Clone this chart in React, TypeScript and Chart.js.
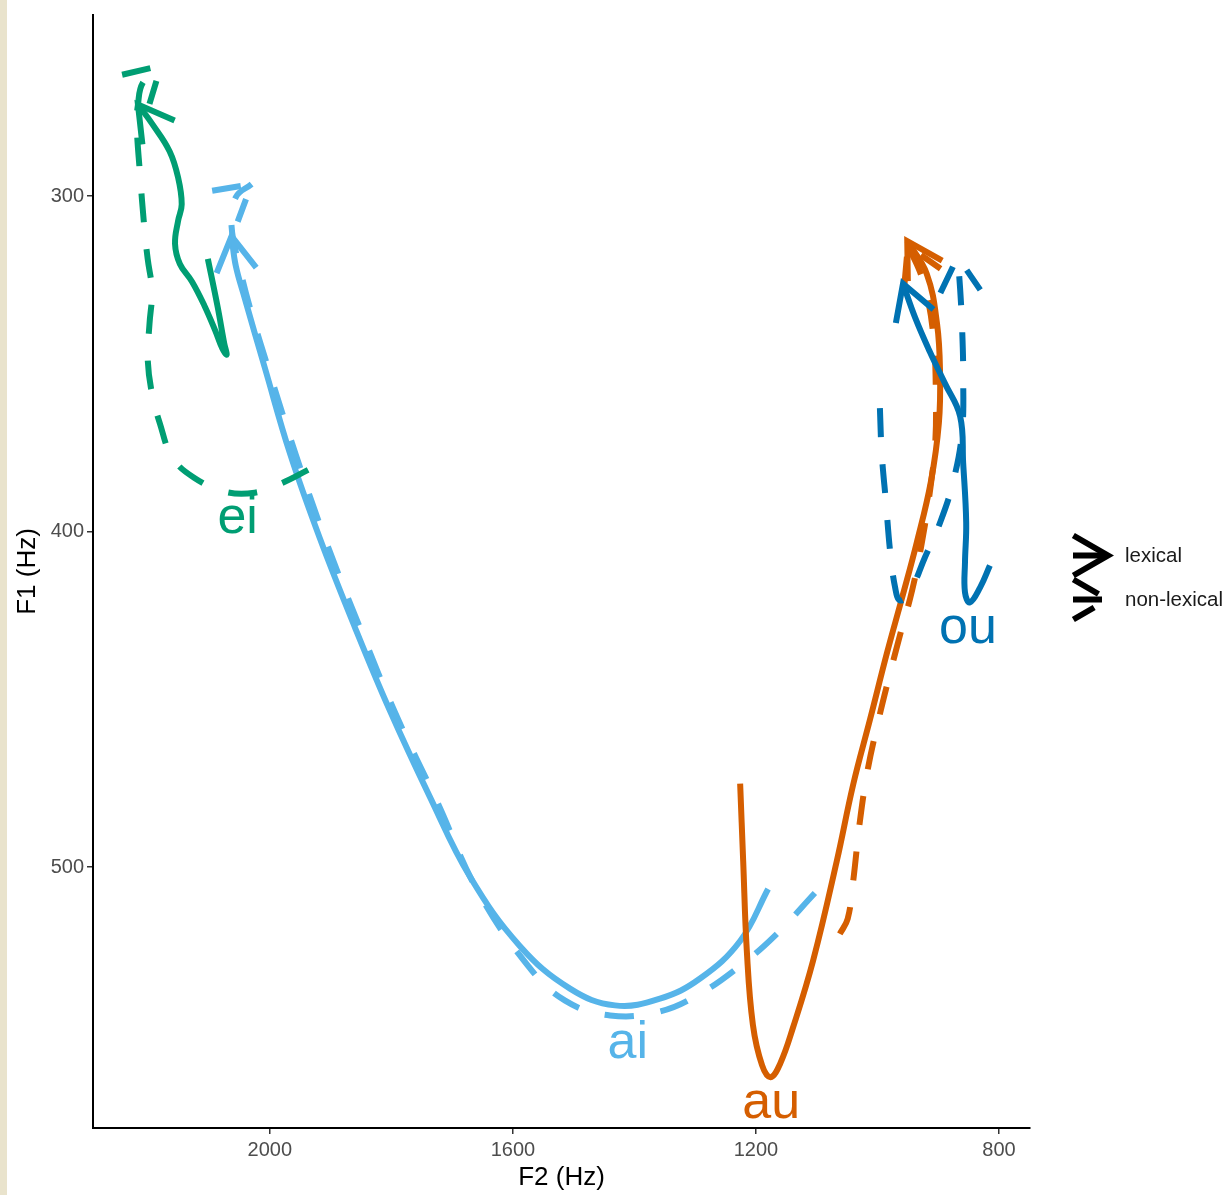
import React, { useEffect, useRef } from 'react';
import { Chart, registerables } from 'chart.js';

Chart.register(...registerables);

// Axis ticks
const xTicks = [800, 1200, 1600, 2000];
const yTicks = [300, 400, 500];

// Vowel series (draw order: ai, au, ei, ou)
const vowelNames = ['ai', 'au', 'ei', 'ou'];
const vowelColors = ['#56B4E9', '#D55E00', '#009E73', '#0072B2'];
const legendLabels = ['lexical', 'non-lexical'];

// Label anchor positions (baseline) per vowel
const labelF2 = [1411, 1175, 2053, 851];
const labelF1 = [557.0, 574.8, 400.3, 433.2];

// ai
const aiLexF2 = [1180, 1226, 1292, 1358, 1432, 1506, 1589, 1671, 1737, 1803, 1860, 1918, 1967, 2008, 2041, 2056, 2063];
const aiLexF1 = [506.5, 522.0, 533.2, 539.2, 541.2, 536.2, 523.4, 502.7, 478.9, 453.1, 428.5, 401.8, 376.6, 351.3, 330.6, 320.8, 311.9];
const aiNonF2 = [1103, 1169, 1226, 1292, 1358, 1440, 1514, 1575, 1658, 1725, 1793, 1850, 1908, 1957, 2000, 2030, 2049, 2063, 2056, 2030];
const aiNonF1 = [507.7, 520.5, 529.4, 537.7, 543.0, 544.2, 539.8, 529.4, 507.1, 480.4, 454.3, 429.4, 402.7, 377.2, 352.8, 335.0, 321.7, 308.9, 300.3, 296.4];

// au
const auLexF2 = [1226, 1221, 1215, 1205, 1190, 1176, 1160, 1139, 1106, 1067, 1040, 1012, 984, 960, 935, 912, 899, 897, 902, 919, 951];
const auLexF1 = [475.1, 498.2, 525.0, 547.0, 559.0, 562.6, 558.5, 547.8, 527.9, 498.2, 475.4, 455.8, 435.9, 420.0, 403.0, 385.0, 367.7, 352.8, 338.0, 323.1, 313.4];
const auNonF2 = [1062, 1049, 1040, 1029, 1016, 999, 983, 963, 943, 927, 914, 905, 904, 907, 917, 930, 950];
const auNonF1 = [519.9, 515.4, 504.2, 486.4, 470.9, 456.7, 444.8, 430.9, 417.5, 403.3, 388.4, 373.6, 358.8, 343.9, 330.6, 322.6, 314.8];

// ei
const eiLexF2 = [2102, 2086, 2075, 2071, 2078, 2090, 2108, 2128, 2148, 2156, 2151, 2145, 2151, 2165, 2193, 2217];
const eiLexF1 = [318.7, 332.9, 343.9, 347.2, 345.5, 340.0, 332.5, 325.5, 320.2, 314.2, 307.4, 302.4, 294.4, 286.6, 278.6, 272.7];
const eiNonF2 = [1937, 1980, 2025, 2074, 2124, 2160, 2181, 2194, 2201, 2198, 2194, 2201, 2206, 2214, 2219, 2217, 2209, 2179];
const eiNonF1 = [381.6, 385.5, 388.4, 388.1, 384.0, 378.0, 367.7, 358.8, 348.4, 338.0, 328.2, 318.7, 310.4, 292.6, 278.6, 272.7, 266.2, 261.1];

// ou
const ouLexF2 = [815, 831, 848, 856, 856, 854, 859, 864, 889, 914, 938, 958];
const ouLexF1 = [410.1, 416.6, 421.1, 418.1, 409.2, 397.3, 379.5, 365.6, 355.8, 346.3, 336.2, 326.1];
const ouNonF2 = [996, 993, 986, 979, 971, 963, 947, 922, 897, 876, 861, 859, 861, 864, 868];
const ouNonF1 = [363.2, 376.6, 391.4, 406.2, 416.6, 420.5, 418.1, 407.7, 397.3, 385.5, 370.6, 352.8, 338.0, 327.6, 318.1];

const lexF2 = [aiLexF2, auLexF2, eiLexF2, ouLexF2];
const lexF1 = [aiLexF1, auLexF1, eiLexF1, ouLexF1];
const nonF2 = [aiNonF2, auNonF2, eiNonF2, ouNonF2];
const nonF1 = [aiNonF1, auNonF1, eiNonF1, ouNonF1];

const FONT = '"Liberation Sans", Arial, Helvetica, sans-serif';
const LINE_W = 6;
const DASH = [29, 27];
const ARROW_LEN = 40;
const TENSION = 0.4;

function drawArrowHead(ctx: CanvasRenderingContext2D, tipX: number, tipY: number, dirX: number, dirY: number, color: string, dash: number[]) {
  const len = Math.hypot(dirX, dirY) || 1;
  const ux = dirX / len;
  const uy = dirY / len;
  const rev = Math.atan2(-uy, -ux);
  const a1 = rev + Math.PI / 6;
  const a2 = rev - Math.PI / 6;
  ctx.save();
  ctx.strokeStyle = color;
  ctx.lineWidth = LINE_W;
  ctx.setLineDash(dash);
  ctx.lineDashOffset = 0;
  ctx.lineCap = 'butt';
  ctx.lineJoin = 'miter';
  ctx.beginPath();
  ctx.moveTo(tipX + ARROW_LEN * Math.cos(a1), tipY + ARROW_LEN * Math.sin(a1));
  ctx.lineTo(tipX, tipY);
  ctx.lineTo(tipX + ARROW_LEN * Math.cos(a2), tipY + ARROW_LEN * Math.sin(a2));
  ctx.stroke();
  ctx.restore();
}

const arrowPlugin = {
  id: 'arrowHeads',
  afterDatasetsDraw(chart: any) {
    const ctx = chart.ctx;
    const metas = chart.getSortedVisibleDatasetMetas().slice().reverse();
    for (const meta of metas) {
      const ds = chart.data.datasets[meta.index];
      const pts = meta.data;
      if (pts.length < 2) continue;
      const last = pts[pts.length - 1];
      const prev = pts[pts.length - 2];
      drawArrowHead(ctx, last.x, last.y, last.x - prev.x, last.y - prev.y, ds.borderColor, ds.borderDash || []);
    }
  },
};

const labelPlugin = {
  id: 'vowelLabels',
  afterDatasetsDraw(chart: any) {
    const ctx = chart.ctx;
    const xs = chart.scales.x;
    const ys = chart.scales.y;
    ctx.save();
    ctx.font = `52px ${FONT}`;
    ctx.textAlign = 'center';
    ctx.textBaseline = 'alphabetic';
    vowelNames.forEach((name, i) => {
      ctx.fillStyle = vowelColors[i];
      ctx.fillText(name, xs.getPixelForValue(labelF2[i]), ys.getPixelForValue(labelF1[i]));
    });
    ctx.restore();
  },
};

const legendPlugin = {
  id: 'arrowLegend',
  afterDraw(chart: any) {
    const ctx = chart.ctx;
    const area = chart.chartArea;
    const cy = (area.top + area.bottom) / 2;
    const rows = [cy - 16, cy + 28];
    const x0 = area.right + 43;
    const tip = area.right + 78;
    legendLabels.forEach((lab, i) => {
      const y = rows[i];
      const dash = i === 0 ? [] : DASH;
      ctx.save();
      ctx.strokeStyle = '#000';
      ctx.lineWidth = LINE_W;
      ctx.setLineDash(dash);
      ctx.lineCap = 'butt';
      ctx.beginPath();
      ctx.moveTo(x0, y);
      ctx.lineTo(tip, y);
      ctx.stroke();
      ctx.restore();
      drawArrowHead(ctx, tip, y, 1, 0, '#000', dash);
      ctx.save();
      ctx.fillStyle = '#1a1a1a';
      ctx.font = `20.5px ${FONT}`;
      ctx.textAlign = 'left';
      ctx.textBaseline = 'middle';
      ctx.fillText(lab, area.right + 95, y + 1);
      ctx.restore();
    });
  },
};

export default function App() {
  const ref = useRef<HTMLCanvasElement | null>(null);

  useEffect(() => {
    if (!ref.current) return;
    const datasets: any[] = [];
    vowelNames.forEach((name, i) => {
      datasets.push({
        label: `${name} lexical`,
        data: lexF2[i].map((v, k) => ({ x: v, y: lexF1[i][k] })),
        borderColor: vowelColors[i],
        backgroundColor: vowelColors[i],
        borderWidth: LINE_W,
        borderDash: [],
        showLine: true,
        pointRadius: 0,
        tension: TENSION,
        borderCapStyle: 'butt',
        borderJoinStyle: 'round',
      });
      datasets.push({
        label: `${name} non-lexical`,
        data: nonF2[i].map((v, k) => ({ x: v, y: nonF1[i][k] })),
        borderColor: vowelColors[i],
        backgroundColor: vowelColors[i],
        borderWidth: LINE_W,
        borderDash: DASH,
        showLine: true,
        pointRadius: 0,
        tension: TENSION,
        borderCapStyle: 'butt',
        borderJoinStyle: 'round',
      });
    });
    // dataset 0 is drawn on top in Chart.js, so reverse the draw order
    datasets.reverse();

    const chart = new Chart(ref.current, {
      type: 'scatter',
      data: { datasets },
      options: {
        animation: false,
        responsive: false,
        devicePixelRatio: 1,
        layout: { padding: { left: 0, right: 201, top: 10, bottom: 0 } },
        plugins: { legend: { display: false }, tooltip: { enabled: false } },
        elements: { line: { capBezierPoints: false } },
        scales: {
          x: {
            type: 'linear',
            reverse: true,
            min: 749,
            max: 2291,
            afterBuildTicks: (scale: any) => {
              scale.ticks = xTicks.map((v) => ({ value: v }));
            },
            afterFit: (scale: any) => {
              scale.height = 67;
            },
            ticks: {
              callback: (v: any) => String(v),
              color: '#4d4d4d',
              font: { family: FONT, size: 20 },
              padding: 4,
              maxRotation: 0,
            },
            grid: { display: true, drawOnChartArea: false, drawTicks: true, tickLength: 6, color: '#333333', lineWidth: 1.5 },
            border: { display: true, color: '#000000', width: 2 },
            title: { display: true, text: 'F2 (Hz)', color: '#000000', font: { family: FONT, size: 26 }, padding: { top: 0, bottom: 2 } },
          },
          y: {
            type: 'linear',
            reverse: true,
            min: 246,
            max: 577.75,
            afterBuildTicks: (scale: any) => {
              scale.ticks = yTicks.map((v) => ({ value: v }));
            },
            afterFit: (scale: any) => {
              scale.width = 93;
            },
            ticks: {
              callback: (v: any) => String(v),
              color: '#4d4d4d',
              font: { family: FONT, size: 20 },
              padding: 3,
            },
            grid: { display: true, drawOnChartArea: false, drawTicks: true, tickLength: 6, color: '#333333', lineWidth: 1.5 },
            border: { display: true, color: '#000000', width: 2 },
            title: { display: true, text: 'F1 (Hz)', color: '#000000', font: { family: FONT, size: 26 }, padding: { top: 12, bottom: 0 } },
          },
        },
      },
      plugins: [arrowPlugin, labelPlugin, legendPlugin],
    } as any);

    return () => chart.destroy();
  }, []);

  return (
    <div style={{ position: 'fixed', left: 0, top: 0, width: 1231, height: 1195, background: '#ffffff' }}>
      <div style={{ position: 'absolute', left: 0, top: 0, width: 7, height: 1195, background: '#e9e3cc' }} />
      <canvas ref={ref} width={1231} height={1195} style={{ position: 'absolute', left: 0, top: 0, width: 1231, height: 1195 }} />
    </div>
  );
}
